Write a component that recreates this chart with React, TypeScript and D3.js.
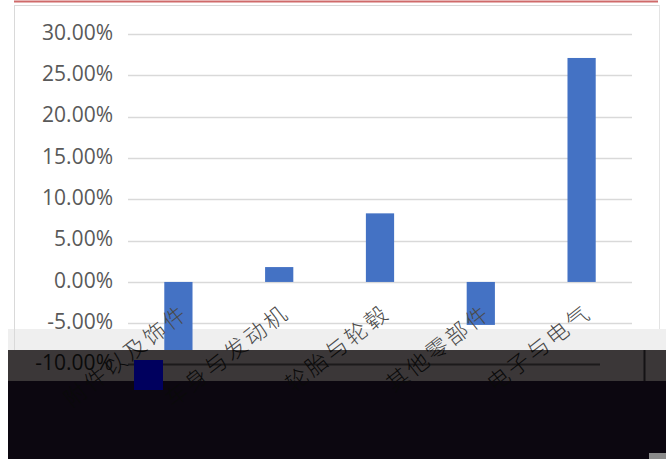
import React from "react";
import * as d3 from "d3";

const categories = ["附件以及饰件", "车身与发动机", "轮胎与轮毂", "其他零部件", "电子与电气"];
const values = [-8.4, 1.8, 8.3, -5.2, 27.1];
const yTicks = [-10, -5, 0, 5, 10, 15, 20, 25, 30];

const W = 666;
const H = 459;

export default function App() {
  const x = d3.scaleBand<string>().domain(categories).range([128, 632]).paddingInner(0.72).paddingOuter(0.36);
  const y = d3.scaleLinear().domain([-10, 30]).range([364.6, 34]);
  const fmt = (v: number) => v.toFixed(2) + "%";
  const y0 = y(0);

  const labels = (color: string) =>
    categories.map((c) => {
      const cx = (x(c) as number) + x.bandwidth() / 2;
      return (
        <text
          key={c}
          transform={`translate(${cx + 8},${y0 + 29}) rotate(-38)`}
          textAnchor="end"
          fontFamily="'Noto Sans CJK SC', sans-serif"
          fontSize={22}
          fontWeight={300}
          letterSpacing={3}
          fill={color}
          dominantBaseline="middle"
        >
          {c}
        </text>
      );
    });

  return (
    <div style={{ position: "absolute", left: 0, top: 0, width: W, height: H, overflow: "hidden", background: "#fff" }}>
      <svg width={W} height={H} style={{ display: "block" }}>
        <defs>
          <clipPath id="top">
            <rect x={0} y={0} width={W} height={350} />
          </clipPath>
          <clipPath id="bot">
            <rect x={0} y={350} width={W} height={H - 350} />
          </clipPath>
        </defs>
        <rect x={0} y={0} width={W} height={H} fill="#fff" />
        <rect x={8} y={329} width={658} height={21} fill="#efefef" />
        <line x1={14} x2={658} y1={1.5} y2={1.5} stroke="#cf6a6a" strokeWidth={2} />
        <line x1={14} x2={659} y1={5.5} y2={5.5} stroke="#d9d9d9" strokeWidth={1} />
        <line x1={14.5} x2={14.5} y1={5} y2={350} stroke="#d9d9d9" strokeWidth={1} />
        <line x1={659.5} x2={659.5} y1={5} y2={329} stroke="#e3e3e3" strokeWidth={1} />
        {yTicks.filter((t) => t !== -10).map((t) => (
          <line key={t} x1={128} x2={632} y1={Math.round(y(t)) + 0.5} y2={Math.round(y(t)) + 0.5} stroke="#d9d9d9" strokeWidth={1.3} />
        ))}
        {categories.map((c, i) => (
          <rect
            key={c}
            x={x(c)}
            width={x.bandwidth()}
            y={Math.min(y(values[i]), y0)}
            height={Math.abs(y(values[i]) - y0)}
            fill="#4472C4"
          />
        ))}
        <rect x={8} y={350} width={658} height={31} fill="#3b3738" />
        <rect x={8} y={381} width={658} height={78} fill="#0c0710" />
        <line x1={128} x2={600} y1={364.5} y2={364.5} stroke="#1c1a1b" strokeWidth={2} />
        <line x1={644.5} x2={644.5} y1={350} y2={381} stroke="#141214" strokeWidth={2} />
        <rect x={134} y={360} width={29} height={30} fill="#00005e" />
        <rect x={649} y={453} width={17} height={6} fill="#8a8a8a" />
        <g clipPath="url(#top)">{labels("#4a4a4a")}</g>
        <g clipPath="url(#bot)">{labels("#0a0a0a")}</g>
        {yTicks.map((t) => (
          <text
            key={t}
            x={113}
            y={y(t)}
            textAnchor="end"
            dominantBaseline="middle"
            fontFamily="'Open Sans', sans-serif"
            fontSize={21}
            fill={t === -10 ? "#0a0a0a" : "#595959"}
          >
            {fmt(t)}
          </text>
        ))}
      </svg>
    </div>
  );
}
